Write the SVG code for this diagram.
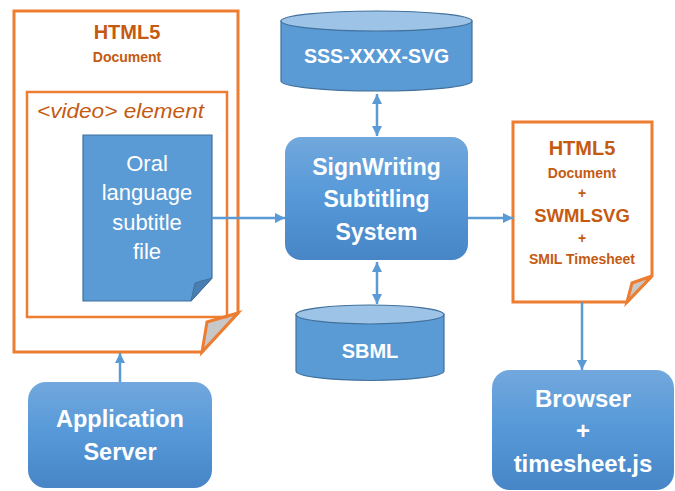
<svg xmlns="http://www.w3.org/2000/svg" width="675" height="491" viewBox="0 0 675 491">
<defs>
<style>
.doc{fill:#fff;stroke:#ED7D31;stroke-width:3;stroke-linejoin:miter}
.fold{fill:#C8C8C8;stroke:#ED7D31;stroke-width:3;stroke-linejoin:miter}
.otxt{fill:#C55A11;font-family:"Liberation Sans",Arial,sans-serif;font-weight:bold;text-anchor:middle}
.wtxt{fill:#fff;font-family:"Liberation Sans",Arial,sans-serif;font-weight:bold;text-anchor:middle}
.box{fill:url(#g);stroke:none}
.cyl{fill:#5B9BD5;stroke:#41719C;stroke-width:1.2}
.cyltop{fill:#9DC3E6;stroke:#41719C;stroke-width:1.2}
.conn{stroke:#5B9BD5;stroke-width:2.5;fill:none}
</style>
<linearGradient id="g" x1="0" y1="0" x2="0" y2="1">
<stop offset="0" stop-color="#72A8DD"/>
<stop offset="0.5" stop-color="#5598D8"/>
<stop offset="1" stop-color="#4785C6"/>
</linearGradient>
<marker id="ah" markerUnits="userSpaceOnUse" markerWidth="10" markerHeight="10" viewBox="0 0 10 10" refX="10" refY="5" orient="auto">
<path d="M0,0 L10,5 L0,10 Z" fill="#5B9BD5"/>
</marker>
<marker id="as" markerUnits="userSpaceOnUse" markerWidth="10" markerHeight="10" viewBox="0 0 10 10" refX="0" refY="5" orient="auto">
<path d="M10,0 L0,5 L10,10 Z" fill="#5B9BD5"/>
</marker>
</defs>

<g id="html5-document">
<path class="doc" d="M14,11 H238 V313 L202,352 H14 Z"/>
<path class="fold" d="M238,313 L207,322 L202,352 Z"/>
<text class="otxt" x="127" y="39" font-size="20">HTML5</text>
<text class="otxt" x="127" y="62" font-size="14">Document</text>
</g>

<g id="video-element">
<rect x="27" y="92" width="200" height="225" fill="none" stroke="#ED7D31" stroke-width="2.5"/>
<text x="37" y="118" fill="#C55A11" font-family="'Liberation Sans',Arial,sans-serif" font-style="italic" font-size="21" textLength="167" lengthAdjust="spacingAndGlyphs">&lt;video&gt; element</text>
</g>

<g id="oral-subtitle-file">
<path d="M83,135 H212 V278 L191,301 H83 Z" fill="#5B9BD5" stroke="#41719C" stroke-width="1.2"/>
<path d="M212,278 L195,283 L191,301 Z" fill="#4A7EB3" stroke="#41719C" stroke-width="1"/>
<g fill="#fff" font-family="'Liberation Sans',Arial,sans-serif" font-size="22" text-anchor="middle">
<text x="147" y="171">Oral</text>
<text x="147" y="200">language</text>
<text x="147" y="230">subtitle</text>
<text x="147" y="259">file</text>
</g>
</g>

<g id="sss-xxxx-svg">
<path class="cyl" d="M281,21 V81 A95.5,10 0 0 0 472,81 V21 Z"/>
<ellipse class="cyltop" cx="376.5" cy="21" rx="95.5" ry="10"/>
<text class="wtxt" x="376.5" y="63" font-size="19.5">SSS-XXXX-SVG</text>
</g>

<g id="signwriting-subtitling-system">
<rect class="box" x="285" y="137" width="183" height="123" rx="16"/>
<text class="wtxt" x="376.5" y="175" font-size="23">SignWriting</text>
<text class="wtxt" x="376.5" y="207" font-size="23">Subtitling</text>
<text class="wtxt" x="376.5" y="240" font-size="23">System</text>
</g>

<g id="sbml">
<path class="cyl" d="M296,314.5 V371 A74,9.5 0 0 0 444,371 V314.5 Z"/>
<ellipse class="cyltop" cx="370" cy="314.5" rx="74" ry="9.5"/>
<text class="wtxt" x="370" y="358" font-size="20">SBML</text>
</g>

<g id="html5-output-document">
<path class="doc" d="M513,122 H652 V276 L627,302 H513 Z"/>
<path class="fold" d="M652,276 L632,283 L627,302 Z"/>
<text class="otxt" x="582" y="155" font-size="20">HTML5</text>
<text class="otxt" x="582" y="178" font-size="14">Document</text>
<text class="otxt" x="582" y="198" font-size="14">+</text>
<text class="otxt" x="582" y="222" font-size="18.5">SWMLSVG</text>
<text class="otxt" x="582" y="243" font-size="14">+</text>
<text class="otxt" x="582" y="264" font-size="14">SMIL Timesheet</text>
</g>

<g id="browser">
<rect class="box" x="492" y="370" width="182" height="120" rx="18"/>
<text class="wtxt" x="583" y="407" font-size="24">Browser</text>
<text class="wtxt" x="583" y="439" font-size="24">+</text>
<text class="wtxt" x="583" y="472" font-size="24">timesheet.js</text>
</g>

<g id="application-server">
<rect class="box" x="28" y="382" width="184" height="106" rx="18"/>
<text class="wtxt" x="120" y="427" font-size="23.5">Application</text>
<text class="wtxt" x="120" y="460" font-size="23.5">Server</text>
</g>

<g id="connectors">
<path class="conn" d="M212,218 H285" marker-end="url(#ah)"/>
<path class="conn" d="M468,218 H513" marker-end="url(#ah)"/>
<path class="conn" d="M377,94 V136" marker-start="url(#as)" marker-end="url(#ah)"/>
<path class="conn" d="M377,262 V304" marker-start="url(#as)" marker-end="url(#ah)"/>
<path class="conn" d="M582,302 V370" marker-end="url(#ah)"/>
<path class="conn" d="M120,382 V353" marker-end="url(#ah)"/>
</g>
</svg>
